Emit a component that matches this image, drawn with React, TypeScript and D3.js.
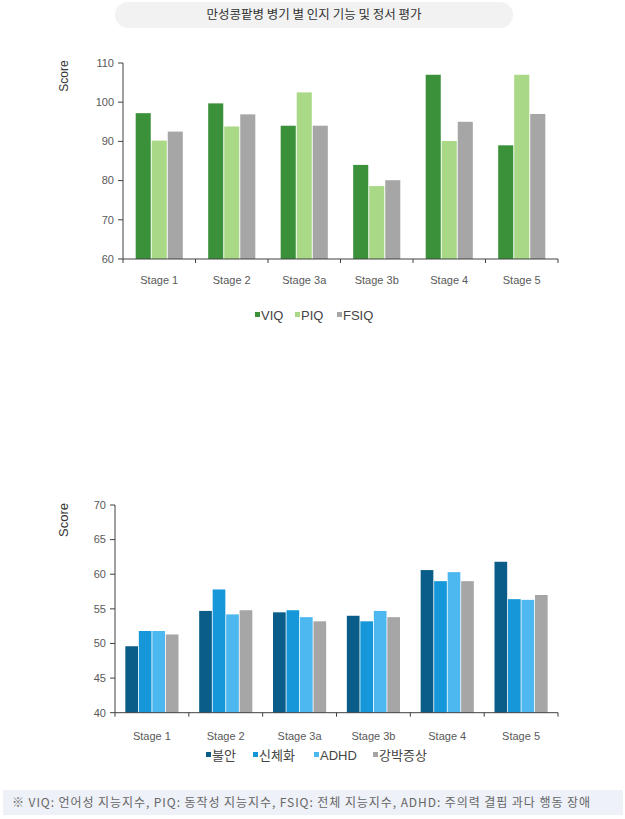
import React from "react";
import * as d3 from "d3";

const title = "만성콩팥병 병기 별 인지 기능 및 정서 평가";
const footnote = "※ VIQ: 언어성 지능지수, PIQ: 동작성 지능지수, FSIQ: 전체 지능지수, ADHD: 주의력 결핍 과다 행동 장애";
const stages = ["Stage 1", "Stage 2", "Stage 3a", "Stage 3b", "Stage 4", "Stage 5"];

const iqSeries = ["VIQ", "PIQ", "FSIQ"];
const viq = [97.2, 99.7, 94.0, 84.0, 107.0, 89.0];
const piq = [90.2, 93.8, 102.5, 78.6, 90.1, 107.0];
const fsiq = [92.5, 96.9, 94.0, 80.1, 95.0, 97.0];
const iqTicks = [60, 70, 80, 90, 100, 110];

const emoSeries = ["불안", "신체화", "ADHD", "강박증상"];
const anxiety = [49.6, 54.7, 54.5, 54.0, 60.6, 61.8];
const somat = [51.8, 57.8, 54.8, 53.2, 59.0, 56.4];
const adhd = [51.8, 54.2, 53.8, 54.7, 60.3, 56.3];
const ocd = [51.3, 54.8, 53.2, 53.8, 59.0, 57.0];
const emoTicks = [40, 45, 50, 55, 60, 65, 70];

const FONT = "'Liberation Sans', 'Noto Sans CJK KR', sans-serif";
const KFONT = "'Noto Sans CJK KR', sans-serif";
const AXIS = "#404040";
const TXT = "#595959";

type ChartProps = {
  series: string[];
  values: number[][];
  colors: string[];
  ticks: number[];
  x0: number;
  x1: number;
  yTop: number;
  yBottom: number;
  pad: number;
  labelY: number;
  legendY: number;
  legendX: number[];
  scoreY: number;
  scoreSize: number;
};

function BarChart(p: ChartProps) {
  const domain = d3.extent(p.ticks) as [number, number];
  const y = d3.scaleLinear().domain(domain).range([p.yBottom, p.yTop]);
  const x = d3
    .scaleBand<string>()
    .domain(stages)
    .range([p.x0, p.x1])
    .paddingInner(p.pad)
    .paddingOuter(p.pad / 2);
  const xs = d3
    .scaleBand<string>()
    .domain(p.series)
    .range([0, x.bandwidth()])
    .paddingInner(0.06);
  const step = x.step();
  return (
    <g>
      <text
        transform={`translate(67.5,${p.scoreY}) rotate(-90)`}
        textAnchor="middle"
        fontSize={p.scoreSize}
        fill="#333"
        fontFamily={FONT}
      >
        Score
      </text>
      {p.series.map((s, si) =>
        stages.map((st, i) => {
          const v = p.values[si][i];
          return (
            <rect
              key={s + st}
              x={(x(st) as number) + (xs(s) as number)}
              y={y(v)}
              width={xs.bandwidth()}
              height={y(domain[0]) - y(v)}
              fill={p.colors[si]}
            />
          );
        })
      )}
      <line x1={p.x0} x2={p.x0} y1={p.yTop} y2={p.yBottom} stroke={AXIS} strokeWidth={1} />
      <line x1={p.x0} x2={p.x1} y1={p.yBottom} y2={p.yBottom} stroke={AXIS} strokeWidth={1} />
      {p.ticks.map((t) => (
        <g key={t}>
          <line x1={p.x0 - 5} x2={p.x0} y1={y(t)} y2={y(t)} stroke={AXIS} />
          <text
            x={p.x0 - 9}
            y={y(t)}
            dy="0.35em"
            textAnchor="end"
            fontSize={11}
            fill={TXT}
            fontFamily={FONT}
          >
            {t}
          </text>
        </g>
      ))}
      {d3.range(stages.length + 1).map((i) => (
        <line
          key={i}
          x1={p.x0 + i * step}
          x2={p.x0 + i * step}
          y1={p.yBottom}
          y2={p.yBottom + 4}
          stroke={AXIS}
        />
      ))}
      {stages.map((st) => (
        <text
          key={st}
          x={(x(st) as number) + x.bandwidth() / 2}
          y={p.labelY}
          dy="0.35em"
          textAnchor="middle"
          fontSize={11}
          fill={TXT}
          fontFamily={FONT}
        >
          {st}
        </text>
      ))}
      {p.series.map((s, si) => (
        <g key={s}>
          <rect x={p.legendX[si]} y={p.legendY - 3} width={5} height={5} fill={p.colors[si]} />
          <text
            x={p.legendX[si] + 6}
            y={p.legendY}
            dy="0.35em"
            fontSize={13}
            fill="#444"
            fontFamily={FONT}
          >
            {s}
          </text>
        </g>
      ))}
    </g>
  );
}

export default function App() {
  return (
    <svg
      width={625}
      height={819}
      style={{ position: "absolute", left: 0, top: 0, background: "#fff" }}
    >
      <rect x={115} y={2} width={398} height={26} rx={13} fill="#f2f2f2" />
      <text
        x={314}
        y={15}
        dy="0.35em"
        textAnchor="middle"
        fontSize={12.5}
        fill="#333"
        fontFamily={KFONT}
      >
        {title}
      </text>
      <BarChart
        series={iqSeries}
        values={[viq, piq, fsiq]}
        colors={["#3a913a", "#a9d886", "#a6a6a6"]}
        ticks={iqTicks}
        x0={123}
        x1={558}
        yTop={63}
        yBottom={259}
        pad={0.35}
        labelY={280}
        legendY={315}
        legendX={[255, 295, 337]}
        scoreY={76}
        scoreSize={12}
      />
      <BarChart
        series={emoSeries}
        values={[anxiety, somat, adhd, ocd]}
        colors={["#0b5d89", "#1597da", "#4db8ef", "#a6a6a6"]}
        ticks={emoTicks}
        x0={115}
        x1={558}
        yTop={505}
        yBottom={712.7}
        pad={0.28}
        labelY={736}
        legendY={755}
        legendX={[206, 253, 314, 373]}
        scoreY={520}
        scoreSize={13}
      />
      <rect x={3} y={790} width={620} height={25} fill="#eef1f8" />
      <text
        x={12}
        y={803}
        dy="0.35em"
        fontSize={12}
        fill="#666"
        fontFamily={KFONT}
        textLength={578}
        lengthAdjust="spacing"
      >
        {footnote}
      </text>
    </svg>
  );
}
